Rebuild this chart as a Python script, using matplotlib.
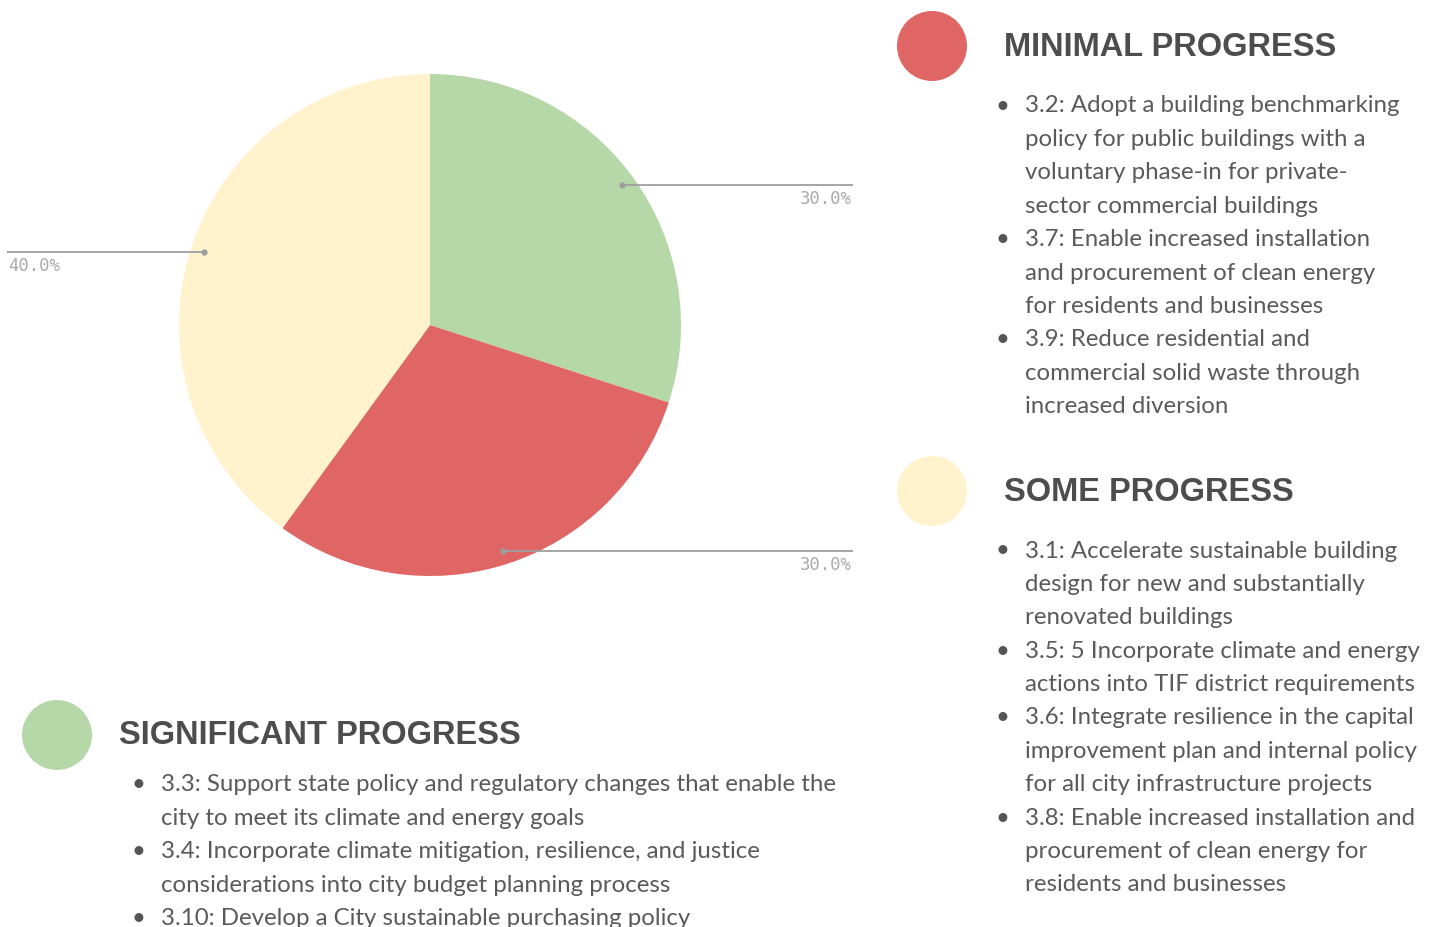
import numpy as np
import matplotlib.pyplot as plt
from matplotlib.patches import Circle

# progress categories, in pie order (clockwise from 12 o'clock)
categories = ["Significant Progress", "Minimal Progress", "Some Progress"]
shares = [30.0, 30.0, 40.0]
colors = ["#b6d7a8", "#e06666", "#fff2cc"]

minimal_items = [
    ["3.2: Adopt a building benchmarking", "policy for public buildings with a",
     "voluntary phase-in for private-", "sector commercial buildings"],
    ["3.7: Enable increased installation", "and procurement of clean energy",
     "for residents and businesses"],
    ["3.9: Reduce residential and", "commercial solid waste through",
     "increased diversion"],
]
some_items = [
    ["3.1: Accelerate sustainable building", "design for new and substantially",
     "renovated buildings"],
    ["3.5: 5 Incorporate climate and energy", "actions into TIF district requirements"],
    ["3.6: Integrate resilience in the capital", "improvement plan and internal policy",
     "for all city infrastructure projects"],
    ["3.8: Enable increased installation and", "procurement of clean energy for",
     "residents and businesses"],
]
significant_items = [
    ["3.3: Support state policy and regulatory changes that enable the",
     "city to meet its climate and energy goals"],
    ["3.4: Incorporate climate mitigation, resilience, and justice",
     "considerations into city budget planning process"],
    ["3.10: Develop a City sustainable purchasing policy"],
]

W, H = 1435, 928
fig = plt.figure(figsize=(W / 100, H / 100), dpi=100)
ax = fig.add_axes([0, 0, 1, 1])

# pie, in pixel space (y measured up from the bottom)
cx, cy, r = 430, H - 326, 251
wedges, _ = ax.pie(shares, colors=colors, startangle=90, counterclock=False,
                   center=(cx, cy), radius=r, frame=True,
                   wedgeprops=dict(linewidth=0))
ax.set_xlim(0, W)
ax.set_ylim(0, H)
ax.set_aspect("equal")
ax.axis("off")

# leader lines + percent labels
line_ends = [853, 853, 7]
for w, share, xend in zip(wedges, shares, line_ends):
    mid = np.deg2rad((w.theta1 + w.theta2) / 2)
    px = cx + 0.947 * r * np.cos(mid)
    py = cy + 0.947 * r * np.sin(mid)
    ax.plot([px, xend], [py, py], color="#9e9e9e", lw=1.3, solid_capstyle="butt")
    ax.plot(px, py, "o", color="#9e9e9e", ms=3.5)
    ha = "right" if xend > cx else "left"
    ax.text(xend - 1 if ha == "right" else xend + 1, py - 13, f"{share:.1f}%",
            ha=ha, va="center", fontsize=12.4, color="#aaaaaa",
            family="DejaVu Sans Mono")

title_kw = dict(fontsize=23.5, color="#4d4d4d", family="Liberation Sans", weight="bold",
                va="center", ha="left")
body_kw = dict(fontsize=17.3, color="#5a5a5a", family="Lato", va="center", ha="left")
step = 33.4


def block(items, x_bullet, x_text, y0):
    y = y0
    for item in items:
        ax.text(x_bullet, H - y, "\u2022", fontsize=17.3, color="#555555",
                family="Lato", ha="center", va="center")
        for line in item:
            ax.text(x_text, H - y, line, **body_kw)
            y += step


# legend blocks
ax.add_patch(Circle((932, H - 47), 35, color=colors[1], lw=0))
ax.text(1004, H - 48, "MINIMAL PROGRESS", **title_kw)
block(minimal_items, 1002, 1025, 106)

ax.add_patch(Circle((932, H - 492), 35, color=colors[2], lw=0))
ax.text(1004, H - 493, "SOME PROGRESS", **title_kw)
block(some_items, 1002, 1025, 551)

ax.add_patch(Circle((57, H - 736), 35, color=colors[0], lw=0))
ax.text(119, H - 736, "SIGNIFICANT PROGRESS", **title_kw)
block(significant_items, 138, 161, 785)

fig.savefig("out.png", dpi=100)
